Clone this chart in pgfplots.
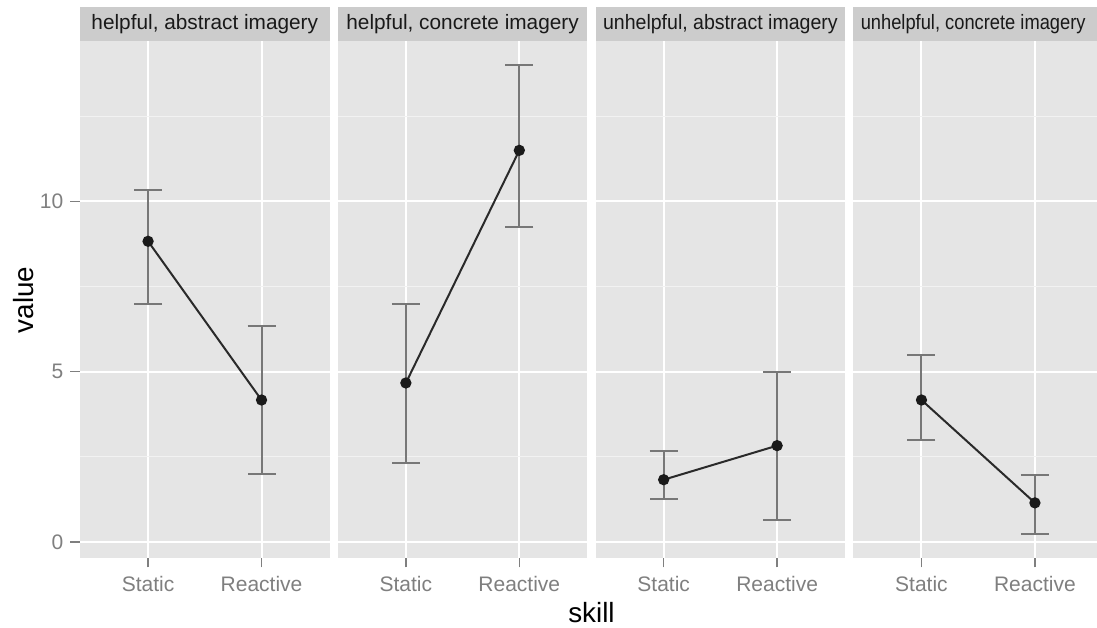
\documentclass[border=0pt]{standalone}
\usepackage{pgfplots}
\pgfplotsset{compat=1.18}
\usepackage{fontspec}
\setmainfont{Liberation Sans}
\definecolor{panelbg}{HTML}{E5E5E5}
\definecolor{stripc}{HTML}{CCCCCC}
\definecolor{gridminor}{HTML}{F2F2F2}
\definecolor{tickc}{HTML}{7F7F7F}
\definecolor{errc}{HTML}{777777}
\definecolor{linec}{HTML}{2A2A2A}
\definecolor{ptc}{HTML}{1A1A1A}
\pgfplotsset{
  panel/.style={
    anchor=north west, width=124.8pt, height=258.35pt, scale only axis,
    xmin=0.4, xmax=2.6, ymin=-0.46, ymax=14.71,
    axis background/.style={fill=panelbg},
    axis line style={draw=none},
    xtick={1,2}, xticklabels={Static,Reactive},
    ytick={0,5,10}, minor ytick={2.5,7.5,12.5},
    grid=both,
    major grid style={white, line width=1pt},
    minor grid style={gridminor, line width=0.5pt},
    tick align=outside, major tick length=4.8pt, minor tick length=0pt,
    xtick pos=bottom, ytick pos=left,
    xtick style={tickc, line width=0.7pt},
    ytick style={tickc, line width=0.7pt},
    /pgf/number format/assume math mode=true,
    ticklabel style={font=\fontsize{10.5}{12}\selectfont, text=tickc},
    xticklabel style={yshift=-1pt},
    every axis title shift=0pt,
    title style={at={(0.5,1)}, anchor=south, fill=stripc, minimum width=124.8pt,
      minimum height=16.75pt, inner sep=0pt, yshift=0pt,
      font=\fontsize{10.4}{12}\selectfont, text=black!90},
    clip=false,
  },
  inner/.style={yticklabels={}, ytick style={draw=none}},
  ebar/.style={forget plot, only marks, mark=none,
    error bars/.cd, y dir=both, y explicit, error mark=|,
    error bar style={draw=errc, line width=1pt},
    error mark options={draw=errc, line width=1pt, mark size=7pt}},
  mean/.style={linec, line width=1pt, mark=*, mark size=2.3pt,
    mark options={fill=ptc, draw=ptc}},
}
\begin{document}
\begin{tikzpicture}
\useasboundingbox (0pt,0pt) rectangle (548.5pt,-313.5pt);
\clip (0pt,0pt) rectangle (548.5pt,-313.5pt);

\begin{axis}[panel, at={(40pt,-20.5pt)}, title={helpful, abstract imagery}]
\addplot[ebar] coordinates {(1,8.83) += (0,1.50) -= (0,1.83) (2,4.17) += (0,2.16) -= (0,2.17)};
\addplot[mean] coordinates {(1,8.83) (2,4.17)};
\end{axis}

\begin{axis}[panel, inner, at={(168.9pt,-20.5pt)}, title={helpful, concrete imagery}]
\addplot[ebar] coordinates {(1,4.67) += (0,2.33) -= (0,2.34) (2,11.50) += (0,2.52) -= (0,2.25)};
\addplot[mean] coordinates {(1,4.67) (2,11.50)};
\end{axis}

\begin{axis}[panel, inner, at={(297.8pt,-20.5pt)}, title={\scalebox{0.94}[1]{unhelpful, abstract imagery}}]
\addplot[ebar] coordinates {(1,1.83) += (0,0.84) -= (0,0.58) (2,2.83) += (0,2.17) -= (0,2.18)};
\addplot[mean] coordinates {(1,1.83) (2,2.83)};
\end{axis}

\begin{axis}[panel, inner, at={(426.7pt,-20.5pt)}, title={\hspace*{-5pt}\scalebox{0.88}[1]{unhelpful, concrete imagery}}]
\addplot[ebar] coordinates {(1,4.17) += (0,1.33) -= (0,1.17) (2,1.15) += (0,0.83) -= (0,0.92)};
\addplot[mean] coordinates {(1,4.17) (2,1.15)};
\end{axis}

\node[anchor=base, font=\fontsize{13.9}{16}\selectfont] at (295.75pt,-311pt) {skill};
\node[rotate=90, anchor=base, font=\fontsize{13.9}{16}\selectfont] at (16.75pt,-150pt) {value};
\end{tikzpicture}
\end{document}
